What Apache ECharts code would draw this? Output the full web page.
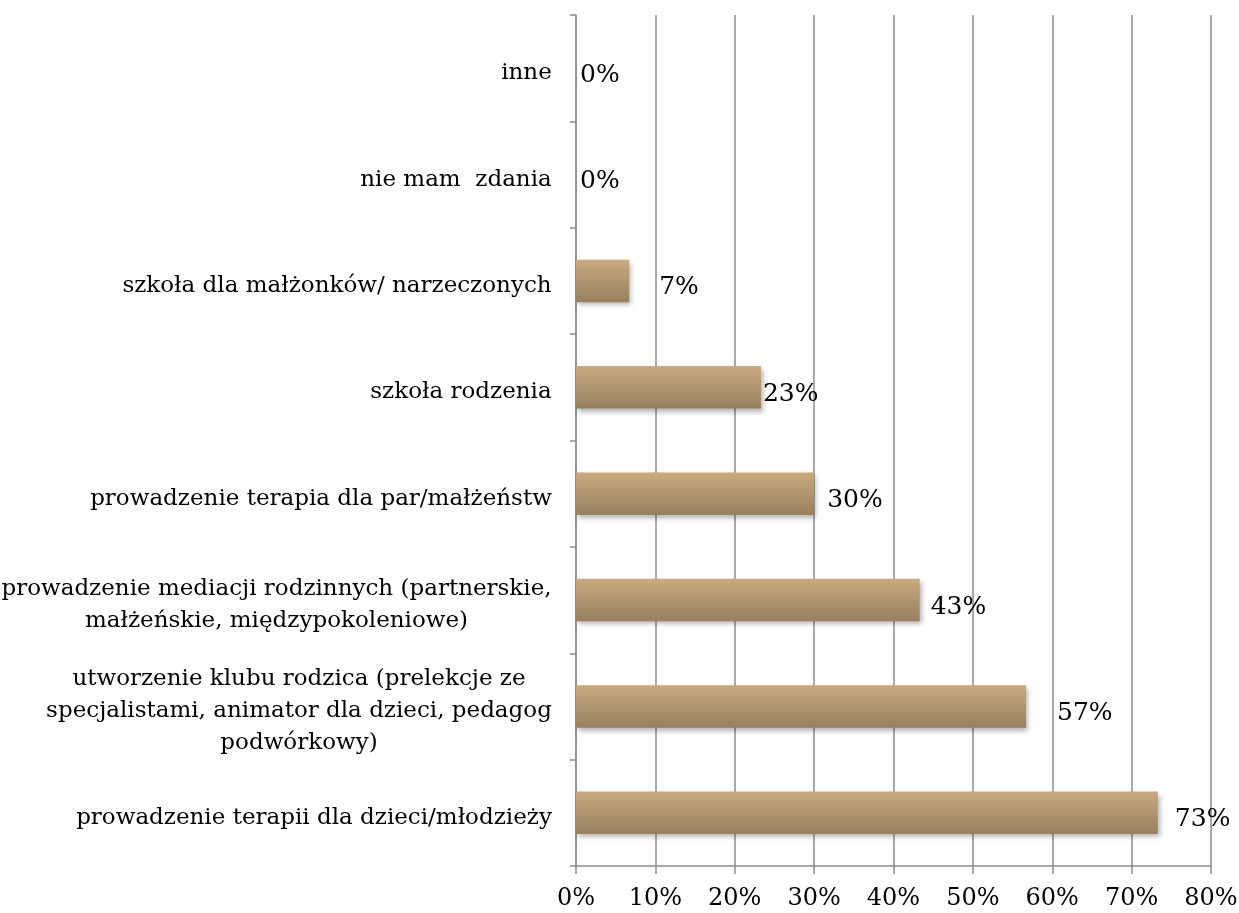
<!DOCTYPE html>
<html>
<head>
<meta charset="utf-8">
<script src="https://cdn.jsdelivr.net/npm/echarts@6/dist/echarts.min.js"></script>
<style>
  html, body { margin: 0; padding: 0; background: #fff; }
  #main { width: 1239px; height: 913px; }
</style>
</head>
<body>
<div id="main"></div>
<script>
// kategorie od dołu do góry
var categories = [
  "prowadzenie terapii dla dzieci/młodzieży",
  "utworzenie klubu rodzica (prelekcje ze\nspecjalistami, animator dla dzieci, pedagog\npodwórkowy)",
  "prowadzenie mediacji rodzinnych (partnerskie,\nmałżeńskie, międzypokoleniowe)",
  "prowadzenie terapia dla par/małżeństw",
  "szkoła rodzenia",
  "szkoła dla małżonków/ narzeczonych",
  "nie mam  zdania",
  "inne"
];
var values = [73.3, 56.7, 43.3, 30, 23.3, 6.7, 0, 0]; // procent
var xTicks = [0, 10, 20, 30, 40, 50, 60, 70, 80];

// odstęp etykiety od końca słupka (jak w oryginale z Excela)
var labelGaps = [17, 31, 11, 13, 2, 30, 4, 4];

var font = "'DejaVu Serif', 'Liberation Serif', serif";
var catSize = 23;

// szerokość najdłuższej linii każdej etykiety -> linie centrowane w bloku
var measure = document.createElement("canvas").getContext("2d");
measure.font = catSize + "px " + font;
var catWidths = categories.map(function (c) {
  return Math.ceil(Math.max.apply(null, c.split("\n").map(function (l) {
    return measure.measureText(l).width;
  })));
});
var catRich = {};
categories.forEach(function (c, i) {
  catRich["c" + i] = {
    width: catWidths[i],
    align: "center",
    fontFamily: font,
    fontSize: catSize,
    lineHeight: 32,
    color: "#000"
  };
});

var myChart = echarts.init(document.getElementById("main"));

var option = {
  backgroundColor: "#ffffff",
  animation: false,
  grid: {
    left: 576,
    right: 28,
    top: 15,
    bottom: 47,
    containLabel: false,
    outerBoundsMode: "none"
  },
  xAxis: {
    type: "value",
    min: xTicks[0],
    max: xTicks[xTicks.length - 1],
    interval: 10,
    axisLine: { show: true, lineStyle: { color: "#8c8c8c", width: 1.5 } },
    axisTick: { show: true, length: 8, lineStyle: { color: "#8c8c8c", width: 1.5 } },
    splitLine: { show: true, lineStyle: { color: "#8c8c8c", width: 1.5 } },
    axisLabel: {
      color: "#000",
      fontFamily: font,
      fontSize: 24,
      margin: 21,
      formatter: function (v) { return v + "%"; }
    }
  },
  yAxis: {
    type: "category",
    data: categories,
    axisLine: { show: true, lineStyle: { color: "#8c8c8c", width: 1.5 } },
    axisTick: { show: true, length: 6, lineStyle: { color: "#8c8c8c", width: 1.5 } },
    splitLine: { show: false },
    axisLabel: {
      align: "right",
      margin: 24,
      padding: [10, 0, 0, 0],
      formatter: function (v, idx) {
        return "{c" + idx + "|" + v + "}";
      },
      rich: catRich
    }
  },
  series: [
    {
      type: "bar",
      barCategoryGap: "60%",
      data: values.map(function (v, i) {
        return { value: v, label: { distance: labelGaps[i] } };
      }),
      itemStyle: {
        color: new echarts.graphic.LinearGradient(0, 0, 0, 1, [
          { offset: 0, color: "#c8aa7f" },
          { offset: 1, color: "#97805f" }
        ]),
        shadowColor: "rgba(0,0,0,0.3)",
        shadowBlur: 5,
        shadowOffsetX: 2,
        shadowOffsetY: 3
      },
      label: {
        show: true,
        position: "right",
        color: "#000",
        fontFamily: font,
        fontSize: 25,
        offset: [0, 7],
        formatter: function (p) { return Math.round(p.value) + "%"; }
      }
    }
  ]
};

myChart.setOption(option);
</script>
</body>
</html>
